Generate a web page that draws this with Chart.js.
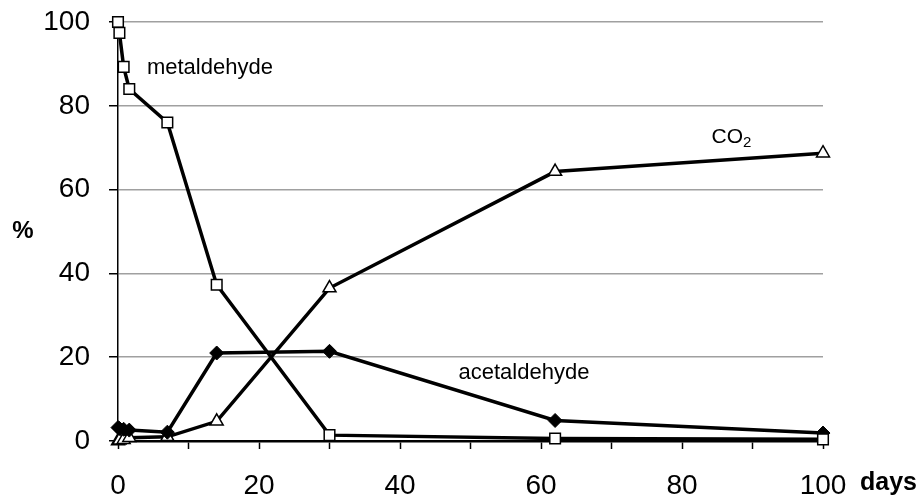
<!DOCTYPE html>
<html>
<head>
<meta charset="utf-8">
<script src="https://cdn.jsdelivr.net/npm/chart.js@4"></script>
<style>
    body { margin: 0; background: #fff; }
    #wrap { width: 922px; height: 496px; }
</style>
</head>
<body>
<div id="wrap"><canvas id="chart"></canvas></div>
<script>
// Sampling days
const days = [0, 0.2, 0.8, 1.6, 7, 14, 30, 62, 100];

// Percent of applied label
const metaldehyde = [100, 97.4, 89.3, 84, 76, 37.3, 1.4, 0.6, 0.4];
const acetaldehyde = [3.2, 3, 2.8, 2.6, 2.1, 21, 21.4, 4.9, 1.9];
const co2 = [0, 0.2, 0.3, 0.8, 1, 4.7, 36.5, 64.3, 68.7];

const xTicks = [0, 20, 40, 60, 80, 100];
const yTicks = [0, 20, 40, 60, 80, 100];

const FONT = '"Liberation Sans", Arial, sans-serif';

function toPoints(values) {
    return days.map((d, i) => ({ x: d, y: values[i] }));
}

// Text labels on the plot and axis titles
const labelPlugin = {
    id: 'labels',
    afterDraw(chart) {
        const ctx = chart.ctx;
        const x = chart.scales.x;
        const y = chart.scales.y;
        ctx.save();
        ctx.fillStyle = '#000';
        ctx.textBaseline = 'middle';
        ctx.textAlign = 'left';
        ctx.font = '22px ' + FONT;
        ctx.fillText('metaldehyde', x.getPixelForValue(4.1), y.getPixelForValue(89));
        ctx.fillText('acetaldehyde', x.getPixelForValue(48.3), y.getPixelForValue(16.2));

        // CO2 with subscript
        const cx = x.getPixelForValue(84.2);
        const cy = y.getPixelForValue(72.4);
        ctx.font = '21px ' + FONT;
        ctx.fillText('CO', cx, cy);
        const w = ctx.measureText('CO').width;
        ctx.font = '15px ' + FONT;
        ctx.fillText('2', cx + w, cy + 5);

        // axis titles
        ctx.font = 'bold 24px ' + FONT;
        ctx.textAlign = 'center';
        ctx.fillText('%', 23, 231);
        ctx.textAlign = 'left';
        ctx.font = 'bold 25px ' + FONT;
        ctx.fillText('days', 860, 483);
        ctx.restore();
    }
};

new Chart(document.getElementById('chart'), {
    type: 'scatter',
    data: {
        datasets: [
            {
                label: 'metaldehyde',
                data: toPoints(metaldehyde),
                showLine: true,
                borderColor: '#000',
                borderWidth: 3.5,
                pointStyle: 'rect',
                pointRadius: 7.5,
                pointBackgroundColor: '#fff',
                pointBorderColor: '#000',
                pointBorderWidth: 1.5,
            },
            {
                label: 'acetaldehyde',
                data: toPoints(acetaldehyde),
                showLine: true,
                borderColor: '#000',
                borderWidth: 3.5,
                pointStyle: 'rectRot',
                pointRadius: 7,
                pointBackgroundColor: '#000',
                pointBorderColor: '#000',
                pointBorderWidth: 1,
            },
            {
                label: 'CO2',
                data: toPoints(co2),
                showLine: true,
                borderColor: '#000',
                borderWidth: 3.5,
                pointStyle: 'triangle',
                pointRadius: 7.5,
                pointBackgroundColor: '#fff',
                pointBorderColor: '#000',
                pointBorderWidth: 1.5,
            },
        ]
    },
    options: {
        responsive: true,
        maintainAspectRatio: false,
        animation: false,
        clip: false,
        layout: { padding: { top: 22, right: 99, left: 0, bottom: 0 } },
        plugins: {
            legend: { display: false },
            tooltip: { enabled: false },
        },
        scales: {
            x: {
                type: 'linear',
                min: 0,
                max: 100,
                afterFit: scale => {
                    scale.height = 55;
                    scale.paddingLeft = 0;
                    scale.paddingRight = 0;
                },
                afterBuildTicks: scale => {
                    const t = [];
                    for (let v = 0; v <= 100; v += 10) t.push({ value: v });
                    scale.ticks = t;
                },
                ticks: {
                    autoSkip: false,
                    maxRotation: 0,
                    padding: 20,
                    color: '#000',
                    font: { family: FONT, size: 28 },
                    callback: v => xTicks.includes(v) ? String(v) : '',
                },
                grid: {
                    drawOnChartArea: false,
                    tickLength: 8,
                    tickColor: '#000',
                    tickWidth: 1.5,
                },
                border: { color: '#000', width: 2.5 },
            },
            y: {
                min: 0,
                max: 100,
                afterFit: scale => {
                    scale.width = 118;
                    scale.paddingTop = 0;
                    scale.paddingBottom = 0;
                },
                afterBuildTicks: scale => {
                    scale.ticks = yTicks.map(v => ({ value: v }));
                },
                ticks: {
                    padding: 19,
                    color: '#000',
                    font: { family: FONT, size: 28 },
                },
                grid: {
                    color: ctx => ctx.tick && ctx.tick.value === 0 ? 'rgba(0,0,0,0)' : '#a0a0a0',
                    lineWidth: 1.5,
                    tickLength: 9,
                    tickColor: '#000',
                    tickWidth: 1.5,
                },
                border: { color: '#000', width: 1.5 },
            },
        },
    },
    plugins: [labelPlugin],
});
</script>
</body>
</html>
